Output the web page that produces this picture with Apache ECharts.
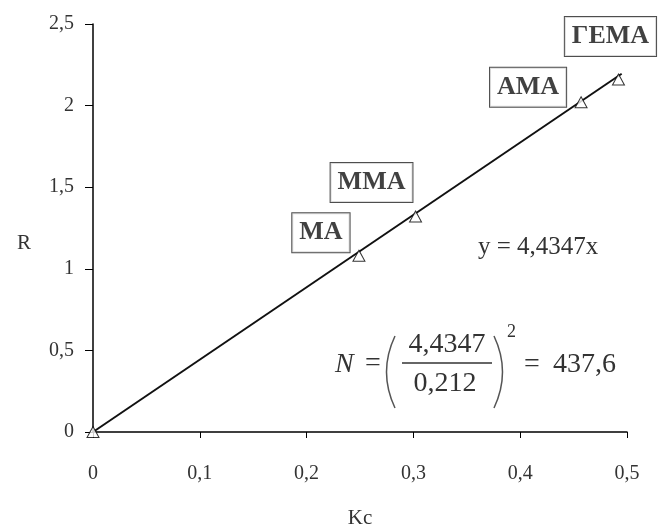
<!DOCTYPE html>
<html>
<head>
<meta charset="utf-8">
<script src="https://cdn.jsdelivr.net/npm/echarts@6/dist/echarts.min.js"></script>
<style>
  html, body { margin: 0; padding: 0; background: #fff; }
  #chart { width: 658px; height: 529px; }
</style>
</head>
<body>
<div id="chart"></div>
<script>
// data
const names = ['', 'MA', 'MMA', 'AMA', 'ГЕМА'];
const kc = [0, 0.249, 0.302, 0.457, 0.492];
const rValues = [0, 1.08, 1.32, 2.02, 2.16];
const slope = 4.4347;
const trendX = [0, 0.495];
const xTicks = [0, 0.1, 0.2, 0.3, 0.4, 0.5];
const yTicks = [0, 0.5, 1, 1.5, 2, 2.5];

var myChart = echarts.init(document.getElementById('chart'));

const serif = '"Liberation Serif", "DejaVu Serif", serif';
const comma = (v) => String(v).replace('.', ',');

// label box offsets relative to each point
const labelOffsets = [[0, 0], [-38, -23], [-44, -34], [-53, -15], [-8, -43]];

const pts = kc.map((x, i) => ({
  value: [x, rValues[i]],
  label: {
    show: names[i] !== '',
    formatter: names[i],
    offset: labelOffsets[i]
  }
}));

const txt = (t, x, y, size, extra) => ({
  type: 'text',
  x: x,
  y: y,
  z: 10,
  style: Object.assign({
    text: t,
    font: size + 'px ' + serif,
    fill: '#333',
    verticalAlign: 'middle'
  }, extra || {})
});

const option = {
  backgroundColor: '#fff',
  animation: false,
  grid: {
    left: 93,
    right: 31,
    top: 24,
    bottom: 97,
    outerBoundsMode: 'none'
  },
  xAxis: {
    type: 'value',
    min: 0,
    max: 0.5,
    interval: 0.1,
    name: 'Kc',
    nameLocation: 'middle',
    nameGap: 76,
    nameTextStyle: { fontFamily: serif, fontSize: 21, color: '#333' },
    axisLine: { lineStyle: { color: '#000', width: 1.5 } },
    axisTick: { inside: false, length: 6, lineStyle: { color: '#000' } },
    axisLabel: {
      margin: 32,
      fontFamily: serif,
      fontSize: 20,
      color: '#333',
      formatter: comma,
      showMaxLabel: true
    },
    splitLine: { show: false }
  },
  yAxis: {
    type: 'value',
    min: 0,
    max: 2.5,
    interval: 0.5,
    name: 'R',
    nameLocation: 'middle',
    nameRotate: 0,
    nameGap: 62,
    nameTextStyle: {
      fontFamily: serif,
      fontSize: 21,
      color: '#333',
      verticalAlign: 'top',
      padding: [5, 0, 0, 0]
    },
    axisLine: { show: true, lineStyle: { color: '#000', width: 1.5 } },
    axisTick: { show: true, inside: false, length: 8, lineStyle: { color: '#000' } },
    axisLabel: {
      margin: 19,
      fontFamily: serif,
      fontSize: 20,
      color: '#333',
      formatter: comma
    },
    splitLine: { show: false }
  },
  series: [
    {
      name: 'trend',
      type: 'line',
      data: trendX.map((x) => [x, slope * x]),
      symbol: 'none',
      lineStyle: { color: '#111', width: 2 },
      z: 2
    },
    {
      name: 'points',
      type: 'scatter',
      data: pts,
      symbol: 'triangle',
      symbolSize: [12, 11],
      itemStyle: { color: '#fff', borderColor: '#000', borderWidth: 1 },
      label: {
        position: 'inside',
        fontFamily: serif,
        fontSize: 26,
        fontWeight: 'bold',
        color: '#111',
        backgroundColor: '#fff',
        borderColor: '#222',
        borderWidth: 1,
        padding: [8, 7, 5, 7]
      },
      z: 3
    }
  ],
  graphic: [
    txt('y = 4,4347x', 478, 247, 25),
    txt('N', 335, 365, 28, { font: 'italic 28px ' + serif }),
    txt('=', 365, 364, 28),
    {
      type: 'bezierCurve',
      z: 10,
      shape: { x1: 395, y1: 336, cpx1: 378, cpy1: 372, x2: 395, y2: 408 },
      style: { stroke: '#555', lineWidth: 1.5, fill: null }
    },
    txt('4,4347', 447, 345, 28, { align: 'center' }),
    {
      type: 'line',
      z: 10,
      shape: { x1: 402, y1: 363, x2: 492, y2: 363 },
      style: { stroke: '#333', lineWidth: 1.3 }
    },
    txt('0,212', 445, 384, 28, { align: 'center' }),
    {
      type: 'bezierCurve',
      z: 10,
      shape: { x1: 494, y1: 336, cpx1: 511, cpy1: 372, x2: 494, y2: 408 },
      style: { stroke: '#555', lineWidth: 1.5, fill: null }
    },
    txt('2', 507, 332, 18),
    txt('=', 524, 365, 28),
    txt('437,6', 553, 365, 28)
  ]
};

myChart.setOption(option);
</script>
</body>
</html>
